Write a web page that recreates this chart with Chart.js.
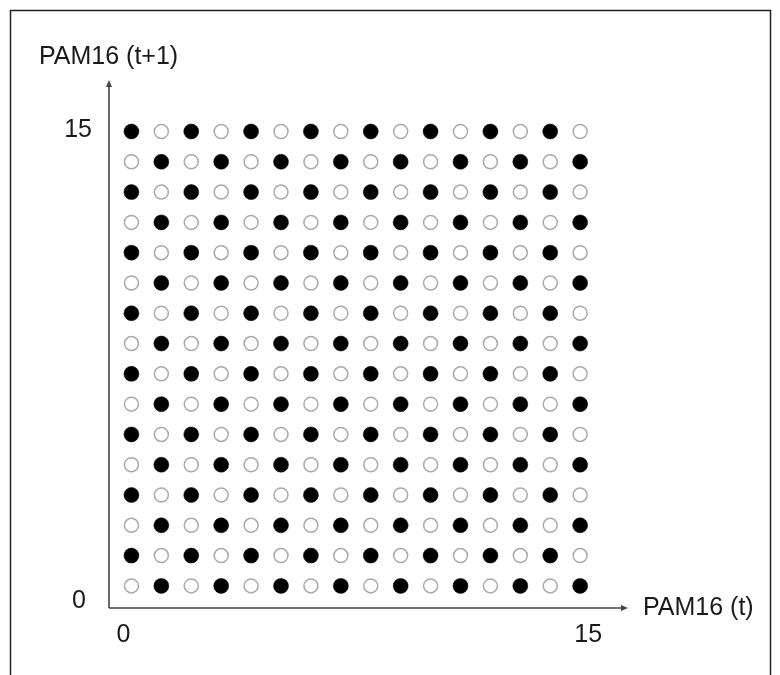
<!DOCTYPE html>
<html>
<head>
<meta charset="utf-8">
<script src="https://cdn.jsdelivr.net/npm/chart.js@4"></script>
<style>
  html, body { margin: 0; padding: 0; background: #fff; }
  #wrap { width: 780px; height: 675px; position: relative; }
</style>
</head>
<body>
<div id="wrap"><canvas id="c"></canvas></div>
<script>
// Categories (PAM16 levels) on each axis
const xLevels = [0,1,2,3,4,5,6,7,8,9,10,11,12,13,14,15];
const yLevels = [0,1,2,3,4,5,6,7,8,9,10,11,12,13,14,15];
// Fill state, rows listed top (15) to bottom (0); 1 = filled, 0 = open
const fillRows = [
  "1010101010101010", // 15
  "0101010101010101", // 14
  "1010101010101010", // 13
  "0101010101010101", // 12
  "1010101010101010", // 11
  "0101010101010101", // 10
  "1010101010101010", // 9
  "0101010101010101", // 8
  "1010101010101010", // 7
  "0101010101010101", // 6
  "1010101010101010", // 5
  "0101010101010101", // 4
  "1010101010101010", // 3
  "0101010101010101", // 2
  "1010101010101010", // 1
  "0101010101010101"  // 0
];
const xTickLabels = ["0", "15"];
const yTickLabels = ["0", "15"];
const xTitle = "PAM16 (t)";
const yTitle = "PAM16 (t+1)";

const filled = [], open = [];
fillRows.forEach((row, i) => {
  const y = yLevels[yLevels.length - 1 - i];
  xLevels.forEach((x, j) => {
    (row[j] === "1" ? filled : open).push({x, y});
  });
});

const FONT = '25px "Liberation Sans", Arial, sans-serif';

const decor = {
  id: 'decor',
  afterDraw(chart) {
    const ctx = chart.ctx;
    const xs = chart.scales.x, ys = chart.scales.y;
    const ca = chart.chartArea;
    ctx.save();
    // frame
    ctx.strokeStyle = '#222';
    ctx.lineWidth = 1.5;
    ctx.beginPath();
    ctx.moveTo(10.5, 700);
    ctx.lineTo(10.5, 10.5);
    ctx.lineTo(770.5, 10.5);
    ctx.lineTo(770.5, 700);
    ctx.stroke();
    // axes
    const ox = ca.left, oy = ca.bottom;
    ctx.strokeStyle = '#444';
    ctx.fillStyle = '#444';
    ctx.lineWidth = 1.6;
    ctx.beginPath();
    ctx.moveTo(ox, oy);
    ctx.lineTo(ox, ca.top + 4);
    ctx.moveTo(ox, oy);
    ctx.lineTo(ca.right - 4, oy);
    ctx.stroke();
    // arrowheads
    ctx.beginPath();
    ctx.moveTo(ox, ca.top);
    ctx.lineTo(ox - 3, ca.top + 7);
    ctx.lineTo(ox + 3, ca.top + 7);
    ctx.closePath();
    ctx.fill();
    ctx.beginPath();
    ctx.moveTo(ca.right, oy);
    ctx.lineTo(ca.right - 7, oy - 3);
    ctx.lineTo(ca.right - 7, oy + 3);
    ctx.closePath();
    ctx.fill();
    // labels
    ctx.fillStyle = '#1a1a1a';
    ctx.font = FONT;
    ctx.textBaseline = 'middle';
    ctx.textAlign = 'center';
    ctx.fillText(xTickLabels[0], xs.getPixelForValue(xLevels[0]) - 8, oy + 27);
    ctx.fillText(xTickLabels[1], xs.getPixelForValue(xLevels[15]) + 8, oy + 27);
    ctx.textAlign = 'right';
    ctx.fillText(yTickLabels[1], ox - 17, ys.getPixelForValue(yLevels[15]) - 1);
    ctx.fillText(yTickLabels[0], ox - 23, oy - 7);
    ctx.textAlign = 'left';
    ctx.fillText(yTitle, 39, 57);
    ctx.fillText(xTitle, ca.right + 15, oy);
    ctx.restore();
  }
};

new Chart(document.getElementById('c'), {
  type: 'scatter',
  data: {
    datasets: [
      { label: 'filled', data: filled, pointRadius: 7.5, pointHoverRadius: 7.5,
        pointBackgroundColor: '#000', pointBorderColor: '#000', pointBorderWidth: 0.5, clip: false },
      { label: 'open', data: open, pointRadius: 7, pointHoverRadius: 7,
        pointBackgroundColor: '#fff', pointBorderColor: '#aaa', pointBorderWidth: 1.5, clip: false }
    ]
  },
  options: {
    responsive: true,
    maintainAspectRatio: false,
    animation: false,
    events: [],
    layout: { padding: { left: 109, right: 152, top: 80, bottom: 67 } },
    plugins: { legend: { display: false }, tooltip: { enabled: false } },
    scales: {
      x: { type: 'linear', min: -0.75, max: 16.6, display: false },
      y: { type: 'linear', min: -0.73, max: 16.7, display: false }
    }
  },
  plugins: [decor]
});
</script>
</body>
</html>
